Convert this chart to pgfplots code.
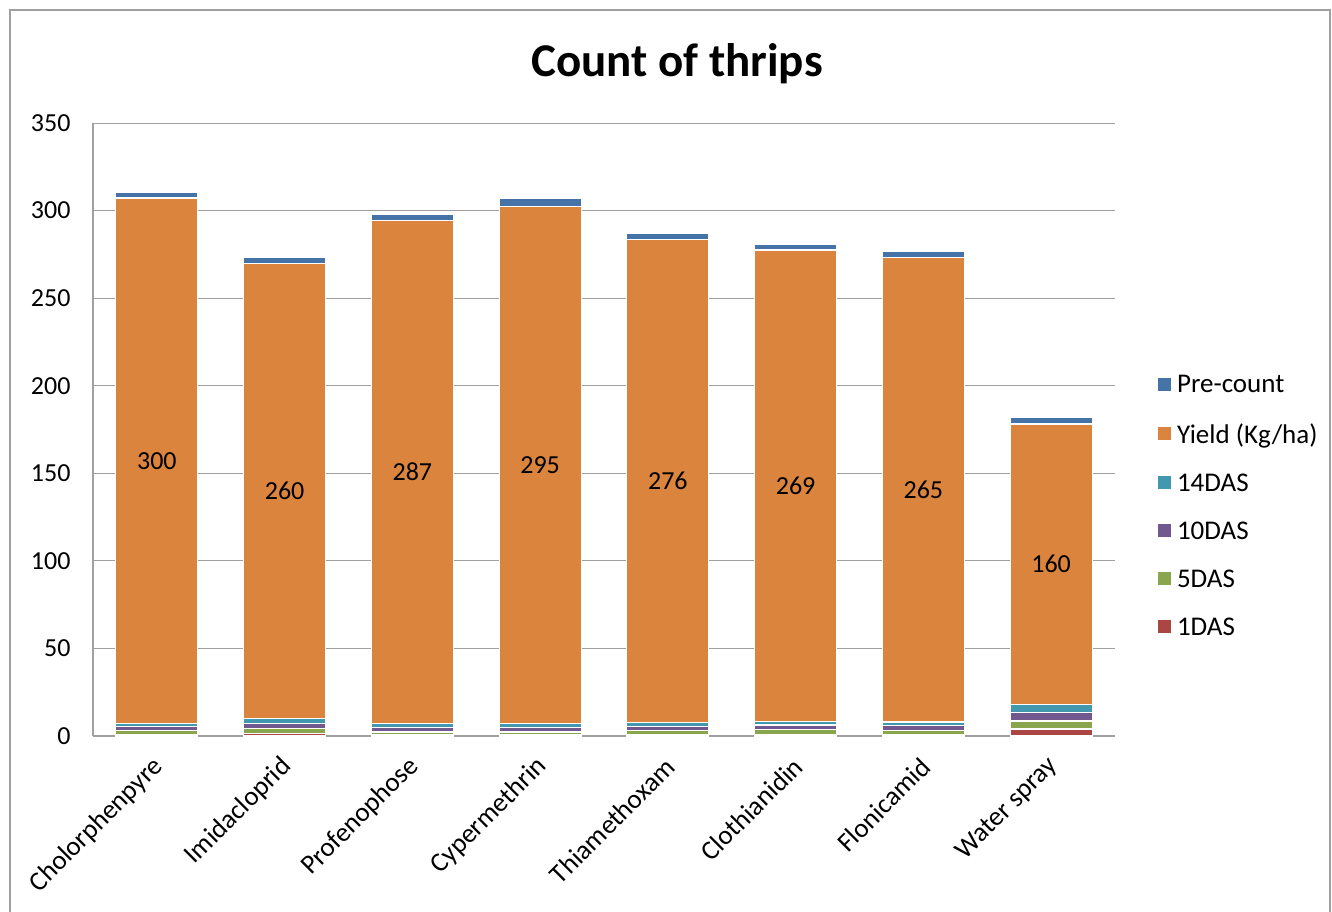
\documentclass[border=0pt]{standalone}
\usepackage{fontspec}
\setmainfont{Carlito}
\usepackage{pgfplots}
\pgfplotsset{compat=1.18}
\definecolor{cBlue}{RGB}{69,114,167}
\definecolor{cOr}{RGB}{219,132,61}
\definecolor{cCy}{RGB}{65,152,175}
\definecolor{cPu}{RGB}{113,88,143}
\definecolor{cGr}{RGB}{137,165,78}
\definecolor{cRe}{RGB}{170,70,67}
\definecolor{cGrid}{RGB}{160,160,160}
\begin{document}
\begin{tikzpicture}
\useasboundingbox (0,0) rectangle (1332pt,911pt);
\draw[color={rgb,255:red,160;green,160;blue,160}, line width=1.5pt] (10pt,-20pt) -- (10pt,901pt) -- (1330pt,901pt) -- (1330pt,-20pt);
\node[font=\fontsize{47}{50}\selectfont\bfseries] at (677pt,847pt) {Count of thrips};
\begin{axis}[
  at={(93pt,175pt)}, anchor=south west,
  scale only axis, width=1022pt, height=613pt,
  ybar stacked, bar width=82pt,
  xmin=-0.5, xmax=7.5, ymin=0, ymax=350,
  xtick={0,...,7},
  xticklabels={Cholorphenpyre,Imidacloprid,Profenophose,Cypermethrin,Thiamethoxam,Clothianidin,Flonicamid,Water spray},
  ytick={0,50,...,350},
  ymajorgrids, grid style={color=cGrid, line width=0.9pt},
  axis lines=left, axis line style={-, color=cGrid, line width=1.2pt},
  major tick length=0pt,
  /pgf/number format/assume math mode=true,
  yticklabel style={font=\fontsize{26}{26}\selectfont, xshift=-19pt},
  xticklabel style={font=\fontsize{27}{27}\selectfont, xshift=5pt, yshift=-24pt, rotate=45, anchor=east},
  legend style={at={(1.039,0.375)}, anchor=west, draw=none, fill=none,
     font=\fontsize{27}{27}\selectfont, row sep=25pt, cells={anchor=west}},
  reverse legend,
  legend image code/.code={\fill[#1,draw=none] (0pt,-6pt) rectangle (13pt,7pt); \path[draw=none,fill=none] (0pt,0pt) rectangle (17pt,0.1pt);},
  every axis plot/.append style={draw=white, line width=1.2pt},
]
\addplot[fill=cRe] coordinates {(0,1.0) (1,1.5) (2,0.8) (3,0.8) (4,1.0) (5,1.0) (6,1.0) (7,4.0)};
\addplot[fill=cGr] coordinates {(0,2.0) (1,2.8) (2,1.5) (3,1.5) (4,2.2) (5,2.5) (6,2.3) (7,4.6)};
\addplot[fill=cPu] coordinates {(0,2.2) (1,2.8) (2,2.5) (3,2.5) (4,2.3) (5,2.8) (6,2.5) (7,4.9)};
\addplot[fill=cCy] coordinates {(0,2.0) (1,2.8) (2,2.5) (3,2.5) (4,2.0) (5,2.2) (6,2.2) (7,4.6)};
\addplot[fill=cOr, nodes near coords, point meta=rawy,
  every node near coord/.append style={anchor=center, text=black, font=\fontsize{26}{26}\selectfont}]
  coordinates {(0,300) (1,260) (2,287) (3,295) (4,276) (5,269) (6,265) (7,160)};
\addplot[fill=cBlue] coordinates {(0,3.3) (1,3.3) (2,3.5) (3,4.5) (4,3.5) (5,3.4) (6,3.5) (7,3.7)};
\legend{1DAS,5DAS,10DAS,14DAS,Yield (Kg/ha),Pre-count}
\end{axis}
\end{tikzpicture}
\end{document}
